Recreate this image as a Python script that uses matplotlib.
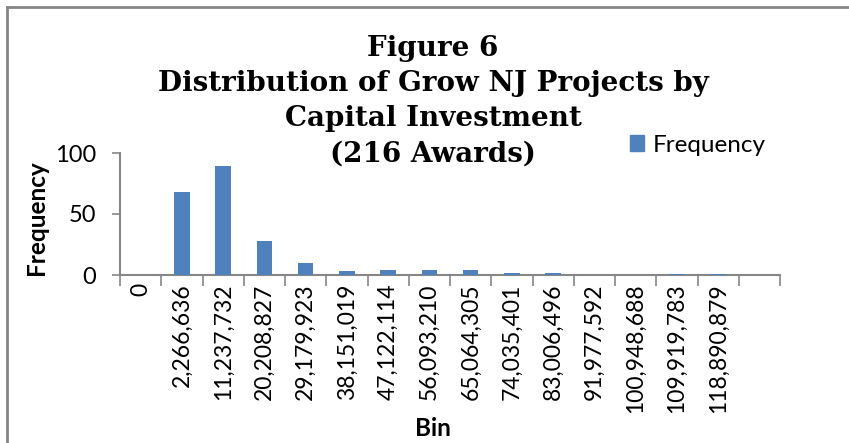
import matplotlib
matplotlib.use("Agg")
import matplotlib.pyplot as plt
from matplotlib.lines import Line2D

# histogram bins (upper edge labels) and counts
bins = ["0", "2,266,636", "11,237,732", "20,208,827", "29,179,923",
        "38,151,019", "47,122,114", "56,093,210", "65,064,305",
        "74,035,401", "83,006,496", "91,977,592", "100,948,688",
        "109,919,783", "118,890,879", ""]
frequency = [0, 68, 89, 28, 10, 3, 4, 4, 4, 2, 2, 0, 0, 1, 1, 0]

title_lines = ["Figure 6", "Distribution of Grow NJ Projects by",
               "Capital Investment", "(216 Awards)"]

BLUE = "#4f81bd"
GRAY = "#868686"
SANS = ["Lato", "DejaVu Sans"]
SERIF = ["DejaVu Serif"]

fig = plt.figure(figsize=(8.49, 4.43), dpi=100)
ax = fig.add_axes([120 / 849, 1 - 275 / 443, 660 / 849, 122 / 443])

xs = list(range(len(bins)))
ax.bar(xs, frequency, width=0.38, color=BLUE, label="Frequency", zorder=3)

ax.set_xlim(-0.5, len(bins) - 0.5)
ax.set_ylim(0, 100)
ax.set_yticks([0, 50, 100])
ax.set_yticklabels(["0", "50", "100"], fontsize=17, family=SANS)

# ticks sit between categories, labels at the centres
ax.set_xticks([x - 0.5 for x in range(len(bins) + 1)], minor=False)
ax.set_xticklabels([])
ax.set_xticks(xs, minor=True)
ax.set_xticklabels(bins, minor=True, rotation=90, fontsize=16.5, family=SANS)
ax.tick_params(axis="x", which="major", length=8, color=GRAY, width=1.2)
ax.tick_params(axis="x", which="minor", length=0, pad=6)
ax.tick_params(axis="y", length=6, color=GRAY, width=1.2, pad=11)

for s in ["top", "right"]:
    ax.spines[s].set_visible(False)
for s in ["left", "bottom"]:
    ax.spines[s].set_color(GRAY)
    ax.spines[s].set_linewidth(1.5)

fig.text(36 / 849, 1 - 218 / 443, "Frequency", rotation=90, ha="center",
         va="center", fontsize=17.5, fontweight="bold", family=SANS)
fig.text(433 / 849, 1 - 428 / 443, "Bin", ha="center", va="center",
         fontsize=17.5, fontweight="bold", family=SANS)

# title, one line at a time
for i, line in enumerate(title_lines):
    fig.text(433 / 849, 1 - (48 + 35.3 * i) / 443, line, ha="center",
             va="center", fontsize=20, fontweight="bold", family=SERIF)

leg = fig.legend(handles=[plt.Rectangle((0, 0), 1, 1, color=BLUE)],
                 labels=["Frequency"], loc="center left",
                 bbox_to_anchor=(608 / 849, 1 - 145 / 443), frameon=False,
                 prop={"family": SANS, "size": 17.5}, handlelength=0.6,
                 handleheight=0.6, handletextpad=0.35)

# chart border (only left and top edges are in frame)
fig.add_artist(Line2D([6.5 / 849, 6.5 / 849], [0, 1 - 6.5 / 443],
                      transform=fig.transFigure, color=GRAY, lw=2))
fig.add_artist(Line2D([6.5 / 849, 1], [1 - 6.5 / 443, 1 - 6.5 / 443],
                      transform=fig.transFigure, color=GRAY, lw=2))

fig.savefig("out.png", dpi=100)
